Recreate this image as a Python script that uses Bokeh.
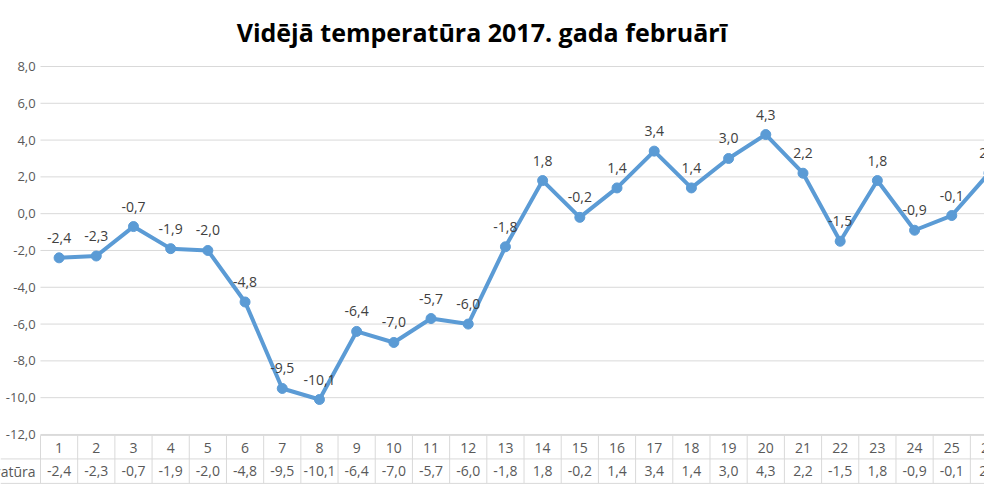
from bokeh.plotting import figure
from bokeh.models import Range1d, ColumnDataSource
from bokeh.core.properties import value
from bokeh.embed import file_html
from bokeh.resources import INLINE

# ---- data ----
days = list(range(1, 27))
temps = [-2.4, -2.3, -0.7, -1.9, -2.0, -4.8, -9.5, -10.1, -6.4, -7.0, -5.7, -6.0,
         -1.8, 1.8, -0.2, 1.4, 3.4, 1.4, 3.0, 4.3, 2.2, -1.5, 1.8, -0.9, -0.1, 2.2]
y_ticks = [-12, -10, -8, -6, -4, -2, 0, 2, 4, 6, 8]
title_text = "Vidējā temperatūra 2017. gada februārī"
row_label = "Temperatūra"


def fmt(v):
    return f"{v:.1f}".replace(".", ",")


FONT = "Open Sans"
LINE_C = "#5B9BD5"
GRID_C = "#d9d9d9"
TXT_C = "#595959"

# ---- layout constants (data units) ----
X_MIN, X_MAX = -0.575, 25.88          # frame spans the whole figure width
Y_MIN, Y_MAX = -14.72, 11.587         # frame spans the whole figure height
PLOT_LEFT = 0.5                       # left edge of the plot area / table columns
TICK_LABEL_X = 0.37                   # right edge of y tick labels
ROW_LABEL_X = 0.366                   # right edge of the table's row label
TABLE_TOP = -12.05
TABLE_MID = -13.33
TABLE_BOT = -14.66
HEADER_Y = -12.71
VALUE_Y = -14.01
TITLE_X, TITLE_Y = 12.37, 9.90

p = figure(width=984, height=484, output_backend="svg", toolbar_location=None,
           x_range=Range1d(X_MIN, X_MAX), y_range=Range1d(Y_MIN, Y_MAX),
           min_border=0)
p.outline_line_color = None
p.background_fill_color = "white"
p.border_fill_color = "white"
p.axis.visible = False
p.grid.visible = False

# gridlines and y tick labels
p.segment(x0=[PLOT_LEFT] * len(y_ticks), x1=[X_MAX] * len(y_ticks), y0=y_ticks, y1=y_ticks,
          line_color=GRID_C, line_width=1)
p.text(x=[TICK_LABEL_X] * len(y_ticks), y=y_ticks, text=[fmt(t) for t in y_ticks],
       text_align="right", text_baseline="middle", text_font=value(FONT),
       text_font_size="13px", text_color=TXT_C)

src = ColumnDataSource(dict(x=days, y=temps, lab=[fmt(t) for t in temps],
                            day=[str(d) for d in days],
                            hy=[HEADER_Y] * len(days), vy=[VALUE_Y] * len(days)))

# line + markers + data labels
p.line("x", "y", source=src, line_color=LINE_C, line_width=4)
p.scatter("x", "y", source=src, size=10, fill_color=LINE_C, line_color=LINE_C)
p.text("x", "y", text="lab", source=src, y_offset=-20, text_align="center",
       text_baseline="middle", text_font=value(FONT), text_font_size="14px",
       text_color="#404040")

# data table
edges = [d - 0.5 for d in days] + [days[-1] + 0.5]
p.segment(x0=edges, x1=edges, y0=[TABLE_TOP] * len(edges), y1=[TABLE_BOT] * len(edges),
          line_color=GRID_C, line_width=1)
p.segment(x0=[PLOT_LEFT, X_MIN, X_MIN], x1=[X_MAX] * 3,
          y0=[TABLE_TOP, TABLE_MID, TABLE_BOT], y1=[TABLE_TOP, TABLE_MID, TABLE_BOT],
          line_color=GRID_C, line_width=1)
p.text("x", "hy", text="day", source=src, text_align="center", text_baseline="middle",
       text_font=value(FONT), text_font_size="14px", text_color=TXT_C)
p.text("x", "vy", text="lab", source=src, text_align="center", text_baseline="middle",
       text_font=value(FONT), text_font_size="14px", text_color=TXT_C)
p.text(x=[ROW_LABEL_X], y=[VALUE_Y], text=[row_label], text_align="right",
       text_baseline="middle", text_font=value(FONT), text_font_size="14px",
       text_color=TXT_C)

# title
p.text(x=[TITLE_X], y=[TITLE_Y], text=[title_text], text_align="center",
       text_baseline="alphabetic", text_font=value(FONT), text_font_style="bold",
       text_font_size="25px", text_color="black")

open("out.html", "w").write(file_html(p, INLINE))
